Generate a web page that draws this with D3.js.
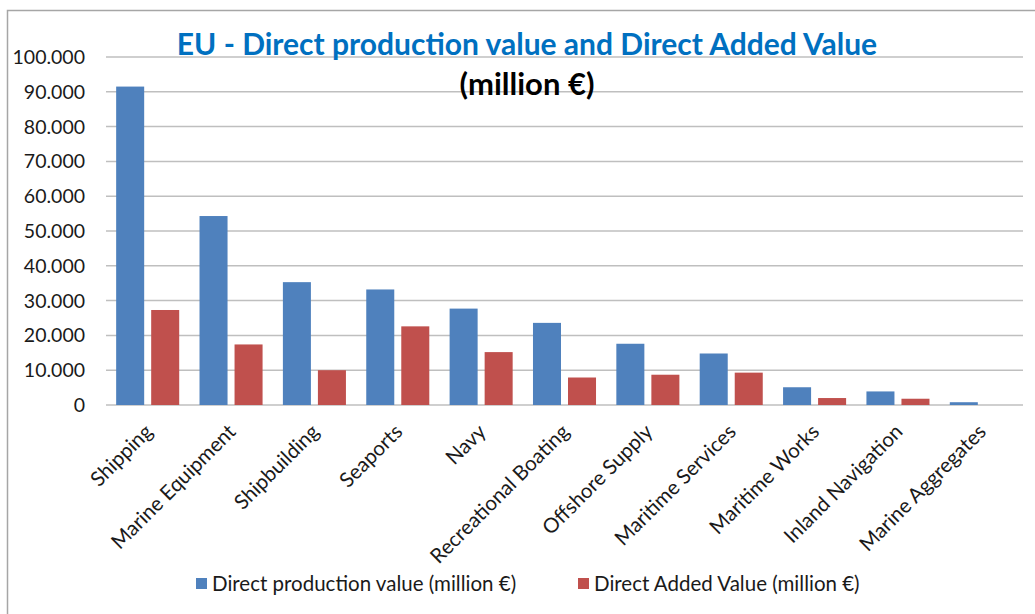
<!DOCTYPE html>
<html>
<head>
<meta charset="utf-8">
<script src="https://cdn.jsdelivr.net/npm/d3@7"></script>
<style>
body{margin:0;background:#fff;}
text{font-family:Lato,"Open Sans",sans-serif;}
</style>
</head>
<body>
<svg id="chart" width="1035" height="614"></svg>
<script>
// data
var categories = ["Shipping","Marine Equipment","Shipbuilding","Seaports","Navy","Recreational Boating","Offshore Supply","Maritime Services","Maritime Works","Inland Navigation","Marine Aggregates"]
var production = [91500,54300,35300,33200,27700,23600,17600,14800,5100,3900,800]
var added = [27300,17400,10000,22600,15200,7900,8700,9300,2000,1800,0]
var series_names = ["Direct production value (million €)","Direct Added Value (million €)"]
var series_colors = ["#4F81BD","#C0504D"]
var y_ticks = [0,10000,20000,30000,40000,50000,60000,70000,80000,90000,100000]

var svg = d3.select("svg#chart")

// frame
svg.append("rect")
  .attr("x",7.5).attr("y",10.5)
  .attr("width",1040).attr("height",610)
  .attr("fill","none").attr("stroke","#a6a6a6").attr("stroke-width",1.5)

var plot_l=106, plot_r=1023, plot_t=57, plot_b=405

var x = d3.scaleBand().domain(categories).range([plot_l,plot_r]).paddingInner(0).paddingOuter(0)
var xs = d3.scaleBand().domain([0,1]).range([0,x.bandwidth()]).paddingInner(0.2).paddingOuter(0.29)
var y = d3.scaleLinear().domain([0,100000]).range([plot_b,plot_t])

// gridlines
svg.append("g").selectAll("line")
  .data(y_ticks).enter()
  .append("line")
  .attr("x1",plot_l).attr("x2",plot_r)
  .attr("y1",function(d){return y(d)}).attr("y2",function(d){return y(d)})
  .attr("stroke","#bfbfbf").attr("stroke-width",1.5)

// y axis labels
var fmt = function(d){ return d==0 ? "0" : d3.format(",")(d).replace(/,/g,".") }
svg.append("g").selectAll("text")
  .data(y_ticks).enter()
  .append("text")
  .attr("x",85).attr("y",function(d){return y(d)+7})
  .attr("text-anchor","end")
  .attr("font-size",19.5)
  .attr("fill","#1a1a1a")
  .text(fmt)

// bars
var rows = categories.map(function(c,i){ return {cat:c, vals:[production[i],added[i]]} })
var groups = svg.append("g").selectAll("g")
  .data(rows).enter()
  .append("g")
  .attr("transform",function(d){return "translate("+x(d.cat)+",0)"})

groups.selectAll("rect")
  .data(function(d){ return d.vals.map(function(v,k){return {k:k,v:v}}) })
  .enter()
  .append("rect")
  .attr("x",function(d){return xs(d.k)})
  .attr("width",xs.bandwidth())
  .attr("y",function(d){return y(d.v)})
  .attr("height",function(d){return plot_b-y(d.v)})
  .attr("fill",function(d){return series_colors[d.k]})

// category labels
svg.append("g").selectAll("text")
  .data(categories).enter()
  .append("text")
  .attr("transform",function(d){return "translate("+(x(d)+x.bandwidth()/2+6)+","+(plot_b+28)+") rotate(-45)"})
  .attr("text-anchor","end")
  .attr("font-size",20.5)
  .attr("fill","#1a1a1a")
  .text(function(d){return d})

// title
svg.append("text")
  .attr("x",527).attr("y",55)
  .attr("text-anchor","middle")
  .attr("font-size",30).attr("font-weight","bold")
  .attr("fill","#0070C0")
  .text("EU - Direct production value and Direct Added Value")
svg.append("text")
  .attr("x",527).attr("y",95)
  .attr("text-anchor","middle")
  .attr("font-size",31).attr("font-weight","bold")
  .attr("fill","#000")
  .text("(million €)")

// legend
var legend_x = [196,578]
var lg = svg.append("g").selectAll("g")
  .data(series_names).enter()
  .append("g")
  .attr("transform",function(d,i){return "translate("+legend_x[i]+",578)"})
lg.append("rect").attr("width",11).attr("height",11)
  .attr("fill",function(d,i){return series_colors[i]})
lg.append("text").attr("x",16).attr("y",13)
  .attr("font-size",20.5).attr("fill","#1a1a1a")
  .text(function(d){return d})
</script>
</body>
</html>
